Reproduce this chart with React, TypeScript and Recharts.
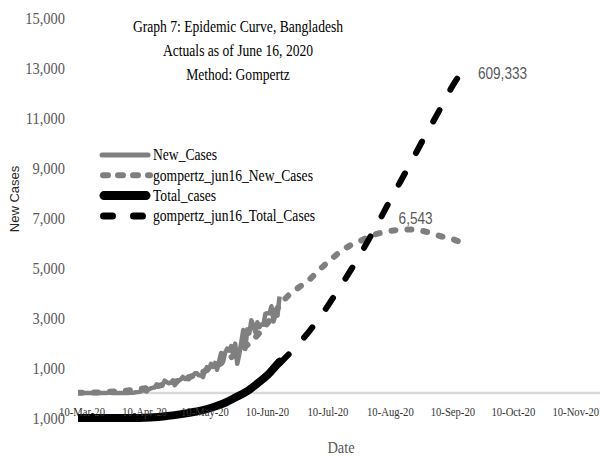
import React from 'react';
import { LineChart, Line, XAxis, YAxis, ReferenceLine, Legend } from 'recharts';

// day 0 = 8-Mar-20
const newCasesActual = [
  3, 0, 0, 0, 0, 0, 2, 0, 3, 2, 4, 3, 3, 4, 3, 6, 6, 0, 5, 4, 0, 0, 1, 2,
  3, 2, 5, 9, 18, 35, 41, 54, 112, 94, 58, 139, 182, 209, 219, 341, 266, 306, 312, 492,
  434, 390, 414, 503, 309, 418, 497, 549, 641, 564,
  571, 552, 665, 688, 786, 790, 706, 709, 636, 887, 1034, 969, 1162, 1041, 1202, 930,
  1273, 1602, 1251, 1617, 1773, 1694, 1873, 1532, 1975, 1166, 1541, 2029, 2523, 1764, 2545,
  2381, 2911, 2695, 2423, 2828, 2635, 2743, 2735, 3171, 3190, 3187, 3471, 2856, 3141, 3099, 3862,
];

const totalDays = [0, 10, 20, 23, 28, 33, 38, 43, 48, 53, 58, 63, 68, 73, 78, 84, 89, 94, 99, 100];
const totalCases = [3, 14, 48, 51, 88, 424, 1231, 2948, 4998, 7667, 10929, 14657, 20065, 26738, 35585, 47153, 60391, 74865, 94600, 98489];

const gompNewDays = [0, 10, 20, 30, 40, 50, 60, 70, 80, 90, 95, 100, 105, 110, 115, 120, 125, 130, 135, 140, 145, 150, 155, 160, 166, 170, 175, 180, 185, 191];
const gompNewValues = [5, 25, 70, 150, 290, 500, 780, 1150, 1650, 2400, 2900, 3500, 3950, 4250, 4550, 4950, 5300, 5650, 5900, 6080, 6280, 6400, 6480, 6530, 6543, 6500, 6400, 6270, 6180, 5990];

const gompTotalDays = [100, 105, 110, 115, 120, 125, 130, 135, 140, 145, 150, 155, 160, 165, 170, 175, 180, 185, 191];
const gompTotalValues = [95000, 113000, 132000, 153000, 176000, 202000, 229000, 257000, 286000, 317000, 349000, 382000, 414000, 446000, 479000, 511000, 543000, 576000, 609333];

const tickDays = [2, 33, 63, 94, 124, 155, 186, 216, 247];
const tickLabels = ['10-Mar-20', '10-Apr-20', '10-May-20', '10-Jun-20', '10-Jul-20', '10-Aug-20', '10-Sep-20', '10-Oct-20', '10-Nov-20'];

const yTicks = [-1000, 1000, 3000, 5000, 7000, 9000, 11000, 13000, 15000];

const seriesNames = ['New_Cases', 'gompertz_jun16_New_Cases', 'Total_cases', 'gompertz_jun16_Total_Cases'];

const newCasesData = newCasesActual.map((v, i) => ({ day: i, value: v }));
const totalData = totalDays.map((d, i) => ({ day: d, value: totalCases[i] }));
const gompNewData = gompNewDays.map((d, i) => ({ day: d, value: gompNewValues[i] }));
const gompTotalData = gompTotalDays.map((d, i) => ({ day: d, value: gompTotalValues[i] }));

const SERIF = '"Liberation Serif", "Times New Roman", serif';
const SANS = '"Liberation Sans", Arial, sans-serif';

const legendStyles: Record<string, { color: string; width: number; dash?: string; x1: number; x2: number }> = {
  New_Cases: { color: '#808080', width: 5, x1: 102, x2: 148 },
  gompertz_jun16_New_Cases: { color: '#7f7f7f', width: 6, dash: '5 10', x1: 103, x2: 150 },
  Total_cases: { color: '#000', width: 9, x1: 104, x2: 146 },
  gompertz_jun16_Total_Cases: { color: '#000', width: 7, dash: '9 21', x1: 103.5, x2: 150 },
};

const fmt = (v: number) => Math.abs(v).toLocaleString('en-US');

const XTick = (props: any) => {
  const { x, y, payload } = props;
  const i = tickDays.indexOf(payload.value);
  return (
    <text transform={`translate(${x} ${y - 6}) scale(0.82 1)`} textAnchor="middle" dominantBaseline="central"
      fontFamily={SERIF} fontSize={13} fill="#333">
      {tickLabels[i]}
    </text>
  );
};

const YTick = (props: any) => {
  const { x, y, payload } = props;
  return (
    <text transform={`translate(${x} ${y}) scale(0.85 1)`} textAnchor="end" dominantBaseline="central"
      fontFamily={SERIF} fontSize={17} fill="#595959">
      {fmt(payload.value)}
    </text>
  );
};

const peakIndex = gompNewValues.indexOf(Math.max(...gompNewValues));
const lastTotalIndex = gompTotalValues.length - 1;

const PeakLabel = (props: any) => {
  const { x, y, index } = props;
  if (index !== peakIndex) return null;
  return (
    <text transform={`translate(${x + 3} ${y - 11}) scale(0.8 1)`} textAnchor="middle" dominantBaseline="central"
      fontFamily={SANS} fontSize={17} fill="#595959">
      {fmt(gompNewValues[index])}
    </text>
  );
};

const TotalLabel = (props: any) => {
  const { x, y, index } = props;
  if (index !== lastTotalIndex) return null;
  return (
    <text transform={`translate(${x + 15} ${y + 3}) scale(0.8 1)`} textAnchor="start" dominantBaseline="central"
      fontFamily={SANS} fontSize={17} fill="#595959">
      {fmt(gompTotalValues[index])}
    </text>
  );
};

const renderLegend = (props: any) => {
  const items = [...(props.payload || [])].sort(
    (a: any, b: any) => seriesNames.indexOf(a.value) - seriesNames.indexOf(b.value)
  );
  return (
    <svg width={260} height={84} style={{ display: 'block' }}>
      {items.map((it: any, i: number) => {
        const s = legendStyles[it.value];
        const cy = 12 + i * 20.3;
        return (
          <g key={it.value}>
            <line x1={s.x1 - 95} x2={s.x2 - 95} y1={cy} y2={cy} stroke={s.color} strokeWidth={s.width}
              strokeDasharray={s.dash} strokeLinecap="round" />
            <text transform={`translate(${153 - 95} ${cy}) scale(0.85 1)`} dominantBaseline="central"
              fontFamily={SERIF} fontSize={16} fill="#000">
              {it.value}
            </text>
          </g>
        );
      })}
    </svg>
  );
};

export default function App() {
  return (
    <div style={{ position: 'absolute', left: 0, top: 0, width: 600, height: 457, background: '#fff', overflow: 'hidden' }}>
      <LineChart width={600} height={457} margin={{ top: 18, right: 0, bottom: 9, left: 0 }}>
        <XAxis type="number" dataKey="day" domain={[0, 259]} ticks={tickDays} interval={0} height={30}
          axisLine={false} tickLine={false} tickSize={0} tickMargin={0} tick={<XTick />} allowDataOverflow />
        <YAxis yAxisId="new" domain={[-1000, 15000]} ticks={yTicks} width={78} axisLine={false} tickLine={false}
          tickSize={0} tickMargin={13} tick={<YTick />} />
        <YAxis yAxisId="total" orientation="right" domain={[0, 700000]} hide />
        <ReferenceLine yAxisId="new" y={0} stroke="#d9d9d9" strokeWidth={2.5} />
        <Line yAxisId="new" data={newCasesData} dataKey="value" name={seriesNames[0]} type="linear" stroke="#808080"
          strokeWidth={4.5} dot={false} strokeLinejoin="round" isAnimationActive={false} />
        <Line yAxisId="new" data={gompNewData} dataKey="value" name={seriesNames[1]} type="monotone"
          stroke="#7f7f7f" strokeWidth={6} strokeDasharray="4 12" strokeLinecap="round" dot={false}
          label={<PeakLabel />} isAnimationActive={false} />
        <Line yAxisId="total" data={totalData} dataKey="value" name={seriesNames[2]} type="monotone" stroke="#000"
          strokeWidth={8} strokeLinecap="round" dot={false} isAnimationActive={false} />
        <Line yAxisId="total" data={gompTotalData} dataKey="value" name={seriesNames[3]} type="monotone"
          stroke="#000" strokeWidth={6} strokeDasharray="13 23" strokeLinecap="round" dot={false}
          label={<TotalLabel />} isAnimationActive={false} />
        <Legend layout="vertical" align="center" verticalAlign="middle" content={renderLegend}
          wrapperStyle={{ left: 95, top: 143, width: 260, height: 84 }} />
      </LineChart>
      <svg width={600} height={457} style={{ position: 'absolute', left: 0, top: 0, pointerEvents: 'none' }}>
        <g fontFamily={SERIF} fontSize={16} fill="#000" textAnchor="middle">
          <text transform="translate(238 32) scale(0.85 1)">Graph 7: Epidemic Curve, Bangladesh</text>
          <text transform="translate(238 56) scale(0.85 1)">Actuals as of June 16, 2020</text>
          <text transform="translate(238 80) scale(0.85 1)">Method: Gompertz</text>
        </g>
        <text transform="translate(341 453) scale(0.85 1)" textAnchor="middle" fontFamily={SERIF} fontSize={17} fill="#595959">Date</text>
        <text transform="translate(19 199) rotate(-90)" textAnchor="middle" fontFamily={SANS} fontSize={13} fill="#262626">New Cases</text>
      </svg>
    </div>
  );
}
